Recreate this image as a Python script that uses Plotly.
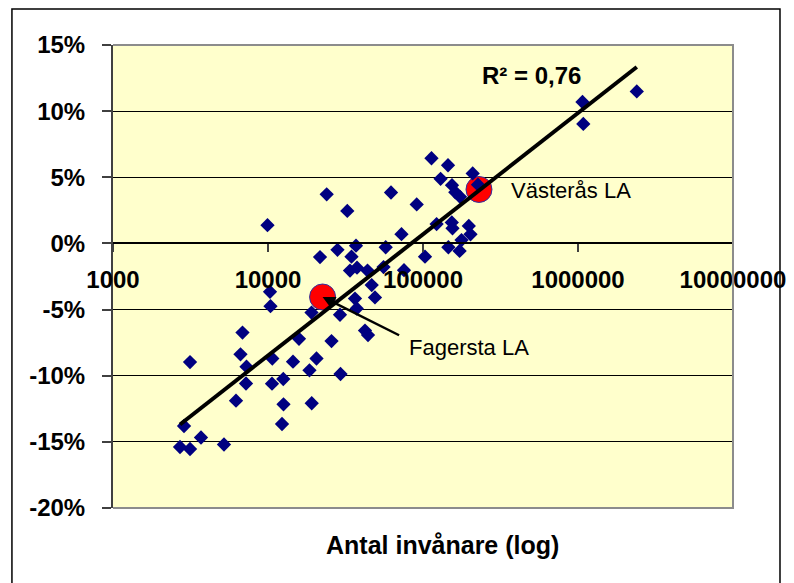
import numpy as np
import plotly.graph_objects as go

# Population (x, log scale) and change in % (y) for each local labour market
population = [
    2706, 3140, 2872, 3696, 5201, 3140, 6846, 6645, 7267, 7213, 6217,
    10660, 10612, 12550, 12589, 12313, 14500, 15849, 19087, 20556, 18520,
    19143, 25690, 29360, 29140, 36410, 37350, 42250, 44180, 46670, 49000,
    9926, 10302, 10379, 21653, 23914, 28075, 32480, 34570, 36960, 33810,
    37520, 43850, 55630, 57460, 62170, 72650, 75410, 91070, 103020,
    113440, 129870, 145000, 153850, 161600, 173300, 209200, 226400,
    122400, 153400, 155000, 197500, 202500, 177200, 145800, 172300,
    1069000, 1082000, 2395000,
]
change_pct = [
    -15.39, -15.54, -13.80, -14.67, -15.20, -8.97, -6.74, -8.38, -9.32, -10.59, -11.89,
    -8.70, -10.60, -10.25, -12.16, -13.65, -8.94, -7.21, -5.23, -8.70, -9.59,
    -12.08, -7.38, -9.87, -5.39, -4.17, -4.92, -6.59, -6.93, -3.15, -4.08,
    1.38, -3.66, -4.74, -1.03, 3.71, -0.48, 2.46, -1.00, -0.17, -2.05,
    -1.83, -2.05, -1.79, -0.29, 3.85, 0.70, -2.02, 2.95, -1.00,
    6.44, 4.88, 5.91, 4.40, 3.87, 3.52, 5.29, 4.44,
    1.46, 1.59, 1.14, 1.32, 0.69, 0.25, -0.29, -0.57,
    10.69, 9.03, 11.49,
]

highlight_names = ["Västerås LA", "Fagersta LA"]
highlight_pop = [229700, 22500]
highlight_pct = [4.08, -4.05]

r2_label = "R² = 0,76"

x_tickvals = [1000, 10000, 100000, 1000000, 10000000]
x_ticktext = ["1000", "10000", "100000", "1000000", "10000000"]
y_tickvals = [-20, -15, -10, -5, 0, 5, 10, 15]
y_ticktext = ["-20%", "-15%", "-10%", "-5%", "0%", "5%", "10%", "15%"]
x_title = "Antal invånare (log)"

FONT = "Liberation Sans, Arial, sans-serif"

# Linear trend of change vs log10(population)
lx = np.log10(np.array(population, dtype=float))
slope, intercept = np.polyfit(lx, np.array(change_pct), 1)
trend_lx = np.array([lx.min(), lx.max()])
trend_x = 10 ** trend_lx
trend_y = slope * trend_lx + intercept

fig = go.Figure()

fig.add_trace(go.Scatter(
    x=highlight_pop, y=highlight_pct, mode="markers",
    marker=dict(symbol="circle", size=26, color="#FF0000",
                line=dict(color="#3030A0", width=1)),
    showlegend=False, hoverinfo="skip",
))
fig.add_trace(go.Scatter(
    x=population, y=change_pct, mode="markers",
    marker=dict(symbol="diamond", size=11, color="#000080",
                line=dict(width=0)),
    showlegend=False,
))
fig.add_trace(go.Scatter(
    x=trend_x, y=trend_y, mode="lines",
    line=dict(color="black", width=4),
    showlegend=False, hoverinfo="skip",
))

zero_pos = (0 - (-20)) / (15 - (-20))

# the page body adds an 8px offset, so the margins are shifted by 8px
fig.update_layout(
    width=794, height=583,
    margin=dict(l=105, r=69, t=37, b=83),
    paper_bgcolor="white",
    plot_bgcolor="#FFFFCC",
    font=dict(family=FONT, color="black"),
    xaxis=dict(
        type="log", range=[3, 7], automargin=False,
        anchor="free", position=zero_pos,
        tickvals=x_tickvals, ticktext=x_ticktext,
        tickfont=dict(family=FONT, size=24, color="black", weight="bold"),
        showgrid=False, zeroline=False,
        showline=True, linecolor="black", linewidth=1.5,
        ticks="outside", ticklen=8, tickwidth=1.5, tickcolor="#404040",
        ticklabelstandoff=7,
    ),
    yaxis=dict(
        range=[-20, 15], automargin=False,
        tickvals=y_tickvals, ticktext=y_ticktext,
        tickfont=dict(family=FONT, size=24, color="black", weight="bold"),
        showgrid=True, gridcolor="black", gridwidth=1,
        zeroline=False,
        showline=True, linecolor="#404040", linewidth=2,
        ticks="outside", ticklen=9, tickwidth=1.5, tickcolor="#404040",
        ticklabelstandoff=12,
    ),
    shapes=[
        dict(type="path", xref="paper", yref="paper",
             path="M 0,0 L 1,0 L 1,1 L 0,1",
             line=dict(color="#8C8C8C", width=2), layer="above"),
        dict(type="rect", xref="paper", yref="paper",
             x0=-0.163, x1=1.0758, y0=-0.25, y1=1.078,
             line=dict(color="black", width=1.5), fillcolor="rgba(0,0,0,0)",
             layer="above"),
    ],
    annotations=[
        dict(text=x_title, xref="paper", yref="paper", x=0.531, y=-0.08,
             showarrow=False, xanchor="center", yanchor="middle",
             font=dict(family=FONT, size=25, color="black", weight="bold")),
        dict(text=r2_label, x=np.log10(497600), y=12.71,
             showarrow=False, xanchor="center", yanchor="middle",
             font=dict(family=FONT, size=24, color="black", weight="bold")),
        dict(text=highlight_names[0], x=np.log10(358700), y=4.03,
             showarrow=False, xanchor="left", yanchor="middle",
             font=dict(family=FONT, size=22, color="black")),
        dict(text=highlight_names[1], x=np.log10(78850), y=-7.83,
             showarrow=False, xanchor="left", yanchor="middle",
             font=dict(family=FONT, size=22, color="black")),
        dict(text="", x=np.log10(highlight_pop[1]), y=highlight_pct[1],
             showarrow=True, arrowhead=2, arrowsize=1, arrowwidth=2.5,
             arrowcolor="black", ax=78, ay=39, standoff=0),
    ],
)

fig.write_html("out.html")
